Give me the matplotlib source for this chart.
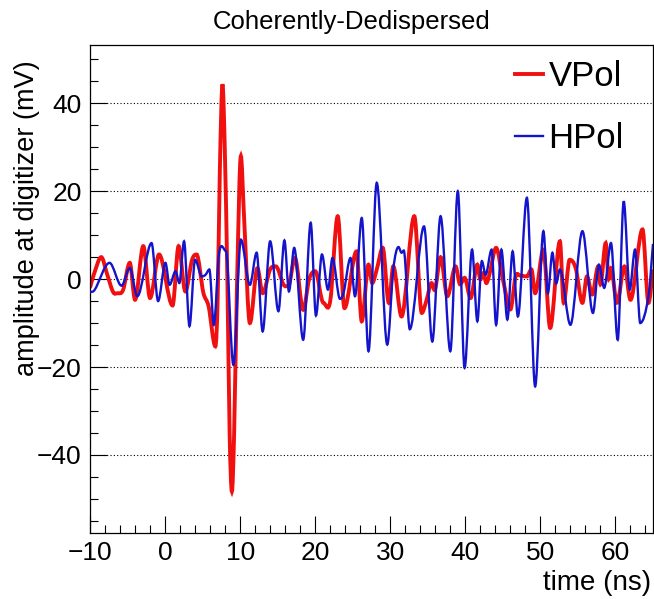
"""
plot.py - coherently-dedispersed VPol / HPol waveforms (ROOT-style look).
"""

import matplotlib
matplotlib.use("Agg")
import matplotlib.pyplot as plt
from matplotlib.lines import Line2D
from matplotlib.patches import PathPatch
from matplotlib.path import Path
from matplotlib.ticker import MultipleLocator

plt.rcParams["font.family"] = ["Liberation Sans", "DejaVu Sans"]

# ── Data ─────────────────────────────────────────────────────────────────────
vpol_t = [-10.0, -9.5, -8.5, -7.7, -6.9, -6.3, -5.6, -4.7, -4.0, -2.9, -2.0,
          -0.8, 1.0, 1.8, 2.7, 3.6, 4.2, 5.1, 5.8, 6.7, 7.0, 7.3, 7.65, 7.95,
          8.3, 8.6, 8.9, 9.2, 9.6, 10.1, 10.5, 11.3, 12.3, 13.0, 14.0, 14.75,
          15.8, 16.4, 17.3, 18.4, 19.2, 20.0, 21.1, 22.0, 23.0, 23.9, 25.5,
          26.2, 27.1, 27.6, 28.2, 29.0, 29.8, 30.4, 31.5, 33.2, 34.2, 34.8,
          35.5, 35.9, 36.7, 37.6, 38.7, 39.3, 39.9, 40.7, 41.6, 42.0, 42.4,
          42.8, 43.2, 44.1, 45.0, 46.0, 46.7, 47.3, 48.2, 48.8, 49.3, 50.4,
          51.3, 52.6, 53.1, 53.9, 54.7, 55.6, 56.2, 56.9, 57.7, 58.0, 58.7,
          59.1, 59.4, 60.2, 61.2, 62.0, 63.6, 64.4, 65.0]
vpol_mv = [-2.0, 1.0, 5.0, 1.0, -3.0, -3.2, -2.5, 3.7, -4.7, 7.5, -4.3,
           5.6, -6.0, 7.5, -2.8, 4.4, 5.6, -3.1, -6.2, -15.3, -5.0, 25.0, 44.3, 30.0,
           0.0, -35.0, -48.3, -35.0, 0.0, 28.0, 15.0, -10.0, 2.5, -3.2, 2.2, 2.9,
           -1.3, -1.6, 4.8, -7.0, 0.0, 1.8, -5.4, -5.0, 14.3, -6.6, 6.3,
           -9.6, 3.3, -0.9, 2.2, 7.1, -5.4, 2.9, -8.5, 14.3, -7.7, -5.0,
           -0.9, -2.5, 5.0, -3.9, 2.9, -1.2, 0.3, -4.3, 3.3, -0.1, 1.4,
           -0.9, 1.0, 7.1, 0.0, -6.9, 0.6, 0.8, 0.6, 2.2, -3.2, 6.7,
           -11.1, 8.6, -5.4, 4.4, 2.5, -5.4, 0.6, -3.5, 2.9, -1.2, 8.2,
           0.0, 2.5, -5.4, 2.9, -4.7, 11.3, -5.4, 2.2]

hpol_t = [-10.0, -9.4, -7.4, -5.8, -4.7, -3.7, -1.8, -0.93, 0.05, 0.6, 1.4,
          1.9, 2.53, 3.25, 4.0, 4.9, 5.4, 5.9, 6.5, 7.2, 8.1, 9.1, 10.1, 11.3,
          12.2, 13.0, 14.0, 15.1, 15.9, 16.5, 17.2, 18.4, 19.4, 20.1, 20.9,
          21.7, 22.3, 23.3, 23.8, 24.7, 25.3, 26.2, 27.1, 28.2, 29.6, 30.4,
          31.1, 31.5, 31.8, 32.6, 34.5, 35.6, 36.7, 38.0, 39.0, 39.9, 40.9,
          41.6, 42.2, 42.7, 43.5, 44.1, 44.8, 45.6, 46.3, 47.0, 48.2, 49.3,
          50.4, 51.0, 51.6, 52.1, 52.6, 54.0, 55.6, 57.0, 57.8, 58.5, 59.4,
          60.3, 61.1, 61.9, 62.6, 63.3, 64.4, 65.0]
hpol_mv = [-3.0, -2.5, 3.7, -1.5, 2.5, -3.9, 8.2, -5.0, 3.7, -1.3, 1.8,
           -0.9, 8.6, -10.7, 4.4, 0.6, 1.0, 2.2, -10.4, 6.0, 6.4, -19.5, 9.0, -1.3,
           6.0, -11.9, 8.6, -7.3, 8.8, -2.8, 7.1, -13.8, 12.8, -8.3, 5.6,
           -2.4, 4.8, -4.5, -3.0, 4.8, -3.9, 13.9, -16.4, 21.9, -14.9, 2.2,
           7.3, 6.0, 6.5, -11.4, 12.0, -14.2, 14.3, -16.4, 20.0, -20.2, 6.7,
           -9.6, 4.1, 1.0, 6.7, -10.4, 6.7, -9.2, 6.3, -8.5, 18.5, -24.4,
           10.9, -3.2, 6.0, -1.0, 2.2, -10.4, 10.9, -7.7, 3.3, -2.0, 8.2,
           -13.8, 17.7, -2.4, 6.7, -10.0, -3.9, 8.0]

x_range = (-10, 65)
y_range = (-57.75, 53.25)
y_grid = [-40, -20, 0, 20, 40]

VPOL_COLOR = "#f01010"
HPOL_COLOR = "#1414cc"


def smooth_path(t, v):
    """Bezier path through the read points (like ROOT's "C" draw option):
    flat tangent at peaks/troughs, central slope elsewhere."""
    n = len(t)
    slopes = []
    for i in range(n):
        if i == 0:
            m = (v[1] - v[0]) / (t[1] - t[0])
        elif i == n - 1:
            m = (v[-1] - v[-2]) / (t[-1] - t[-2])
        elif (v[i] - v[i - 1]) * (v[i + 1] - v[i]) <= 0:
            m = 0.0
        else:
            m = (v[i + 1] - v[i - 1]) / (t[i + 1] - t[i - 1])
        slopes.append(m)
    verts, codes = [(t[0], v[0])], [Path.MOVETO]
    for i in range(n - 1):
        h = t[i + 1] - t[i]
        verts += [(t[i] + h / 3, v[i] + slopes[i] * h / 3),
                  (t[i + 1] - h / 3, v[i + 1] - slopes[i + 1] * h / 3),
                  (t[i + 1], v[i + 1])]
        codes += [Path.CURVE4] * 3
    return Path(verts, codes)


# ── Figure ───────────────────────────────────────────────────────────────────
fig = plt.figure(figsize=(6.54, 5.99), dpi=100)
ax = fig.add_axes([90 / 654, 1 - 533 / 599, 563 / 654, 488 / 599])

for y in y_grid:
    ax.axhline(y, color="black", lw=0.8, ls=(0, (1, 2)), zorder=1)

ax.add_patch(PathPatch(smooth_path(vpol_t, vpol_mv), fill=False,
                       edgecolor=VPOL_COLOR, lw=2.8, zorder=2))
ax.add_patch(PathPatch(smooth_path(hpol_t, hpol_mv), fill=False,
                       edgecolor=HPOL_COLOR, lw=1.7, zorder=3))

ax.set_xlim(*x_range)
ax.set_ylim(*y_range)
ax.xaxis.set_major_locator(MultipleLocator(10))
ax.xaxis.set_minor_locator(MultipleLocator(2))
ax.yaxis.set_major_locator(MultipleLocator(20))
ax.yaxis.set_minor_locator(MultipleLocator(5))
ax.tick_params(which="both", direction="in", top=False, right=False,
               labelsize=19, width=0.8)
ax.tick_params(which="major", length=12, pad=6)
ax.tick_params(which="minor", length=6)
for s in ax.spines.values():
    s.set_linewidth(0.9)

fig.text(352 / 654, 1 - 22 / 599, "Coherently-Dedispersed",
         ha="center", va="center", fontsize=18.5)
fig.text(651 / 654, 1 - 590 / 599, "time (ns)", ha="right", va="baseline",
         fontsize=20)
fig.text(27 / 654, 1 - 60 / 599, "amplitude at digitizer (mV)", rotation=90,
         ha="center", va="top", fontsize=19.5)

handles = [Line2D([], [], color=VPOL_COLOR, lw=2.8, label="VPol"),
           Line2D([], [], color=HPOL_COLOR, lw=1.7, label="HPol")]
ax.legend(handles=handles, loc="upper right", bbox_to_anchor=(0.985, 1.012),
          frameon=False, fontsize=25, handlelength=0.8, handletextpad=0.15,
          labelspacing=0.85, borderaxespad=0.2)

fig.savefig("out.png", dpi=100)
